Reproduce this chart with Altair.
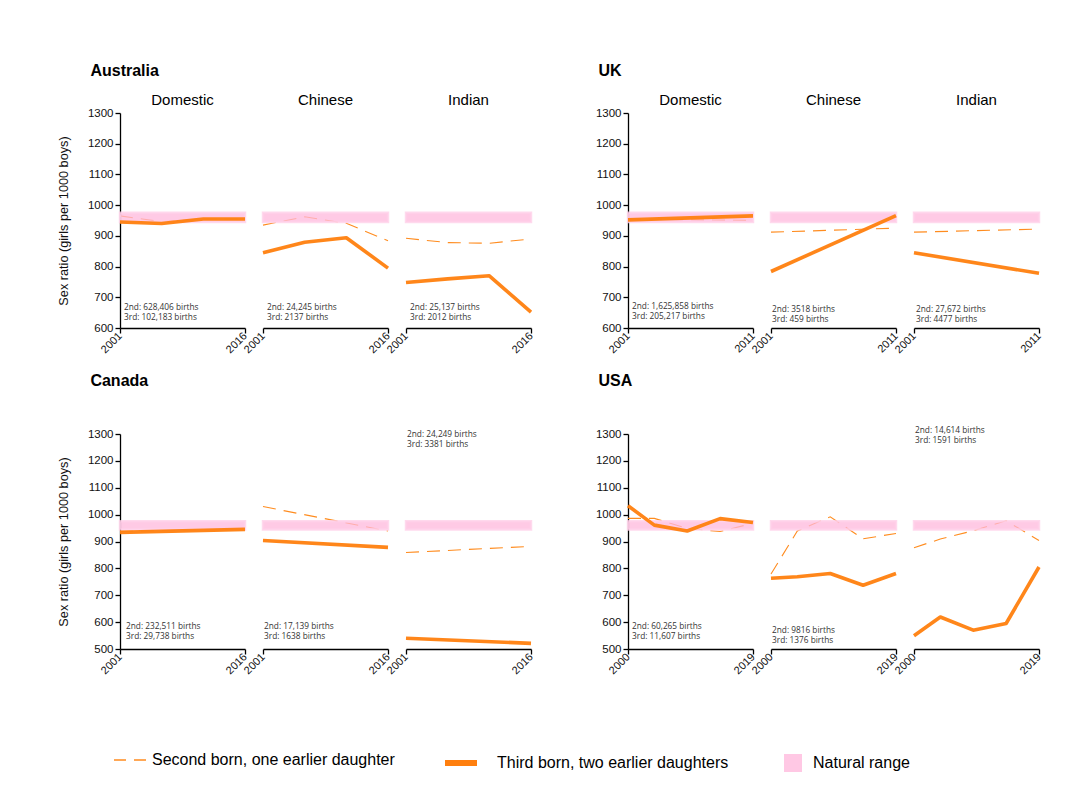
import altair as alt
import pandas as pd

# ---------------- data ----------------
groups = ["Domestic", "Chinese", "Indian"]

aus_years = [2001, 2006, 2011, 2016]
aus_second = {"Domestic": [965, 946, 955, 955], "Chinese": [935, 962, 941, 884], "Indian": [892, 878, 876, 890]}
aus_third = {"Domestic": [945, 940, 955, 955], "Chinese": [845, 879, 894, 795], "Indian": [748, 760, 770, 652]}
aus_births = {"Domestic": ["628,406", "102,183"], "Chinese": ["24,245", "2137"], "Indian": ["25,137", "2012"]}

uk_years = [2001, 2011]
uk_second = {"Domestic": [955, 950], "Chinese": [912, 925], "Indian": [912, 922]}
uk_third = {"Domestic": [952, 965], "Chinese": [784, 966], "Indian": [845, 778]}
uk_births = {"Domestic": ["1,625,858", "205,217"], "Chinese": ["3518", "459"], "Indian": ["27,672", "4477"]}

can_years = [2001, 2016]
can_second = {"Domestic": [938, 947], "Chinese": [1030, 939], "Indian": [859, 882]}
can_third = {"Domestic": [934, 945], "Chinese": [904, 878], "Indian": [540, 521]}
can_births = {"Domestic": ["232,511", "29,738"], "Chinese": ["17,139", "1638"], "Indian": ["24,249", "3381"]}

usa_years = [2000, 2004, 2009, 2014, 2019]
usa_second = {"Domestic": [986, 986, 949, 937, 968], "Chinese": [779, 939, 992, 910, 930], "Indian": [877, 909, 940, 977, 904]}
usa_third = {"Domestic": [1033, 961, 939, 985, 971], "Chinese": [763, 769, 781, 737, 781], "Indian": [549, 619, 570, 595, 805]}
usa_births = {"Domestic": ["60,265", "11,607"], "Chinese": ["9816", "1376"], "Indian": ["14,614", "1591"]}

natural_range = [945, 975]
legend_labels = ["Second born, one earlier daughter", "Third born, two earlier daughters", "Natural range"]
y_title = "Sex ratio (girls per 1000 boys)"

# ---------------- placement of the birth-count notes (pixels inside panel, top of text) ----------------
note_pos = {
    "Australia": {"Domestic": (4, 190), "Chinese": (4, 190), "Indian": (4, 190)},
    "UK": {"Domestic": (4, 189), "Chinese": (1, 192), "Indian": (2, 192)},
    "Canada": {"Domestic": (6, 188), "Chinese": (1, 188), "Indian": (1, -4)},
    "USA": {"Domestic": (4, 188), "Chinese": (1, 192), "Indian": (1, -8)},
}

ORANGE = "#ff7f0e"
DASH_ORANGE = "#ff8c1f"
PINK = "#ffb8dc"
FONT = "Liberation Sans"
NOTE_FONT = "Open Sans"

PW, PH = 125, 215


def panel(country, group, years, second, third, births, ymin, first, header):
    y0, y1 = years[0], years[-1]
    df = pd.DataFrame({
        "year": years * 2,
        "ratio": second + third,
        "series": ["second"] * len(years) + ["third"] * len(years),
    })
    xaxis = alt.Axis(values=[y0, y1], format="d", labelAngle=-45, labelAlign="right",
                     labelBaseline="middle", labelFontSize=11, labelPadding=1,
                     tickSize=5, grid=False, title=None)
    xscale = alt.Scale(domain=[y0, y1], nice=False, zero=False)
    yscale = alt.Scale(domain=[ymin, 1300], nice=False, zero=False)
    if first:
        yaxis = alt.Axis(values=list(range(ymin, 1301, 100)), format="d", grid=False, tickSize=5,
                         labelFontSize=11.5, labelPadding=2,
                         title=y_title if country in ("Australia", "Canada") else None,
                         titleFontSize=12.7, titleFontWeight="normal", titlePadding=17)
    else:
        yaxis = None
    xenc = alt.X("year:Q", scale=xscale, axis=xaxis)
    yenc = alt.Y("ratio:Q", scale=yscale, axis=yaxis)

    base = alt.Chart(df)
    dashed = base.transform_filter(alt.datum.series == "second").mark_line(
        color=DASH_ORANGE, strokeWidth=1.1, strokeDash=[13, 8]
    ).encode(x=xenc, y=yenc)
    band_df = pd.DataFrame({"year": [y0], "year2": [y1],
                            "ratio": [natural_range[0]], "ratio2": [natural_range[1]]})
    band = alt.Chart(band_df).mark_rect(
        fill=PINK, fillOpacity=0.75, stroke="#ffd0e8", strokeWidth=2.5, strokeOpacity=0.8
    ).encode(x=xenc, x2="year2:Q", y=yenc, y2="ratio2:Q")
    solid = base.transform_filter(alt.datum.series == "third").mark_line(
        color=ORANGE, strokeWidth=3.6, opacity=0.95, strokeJoin="round"
    ).encode(x=xenc, y=yenc)
    nx, ny = note_pos[country][group]
    note_df = pd.DataFrame({"t": [f"2nd: {births[0]} births\n3rd: {births[1]} births"]})
    note = alt.Chart(note_df).mark_text(
        align="left", baseline="top", lineBreak="\n", lineHeight=10, fontSize=8.3,
        font=NOTE_FONT, color="#333333"
    ).encode(x=alt.value(nx), y=alt.value(ny), text="t:N")
    layers = [dashed, band, solid, note]
    if header:
        head = alt.Chart(pd.DataFrame({"g": [group]})).mark_text(
            align="center", baseline="middle", fontSize=15, font=FONT, color="#000000"
        ).encode(x=alt.value(PW / 2), y=alt.value(-13), text="g:N")
        layers.append(head)
    return alt.layer(*layers).properties(width=PW, height=PH)


def block(country, years, second, third, births, ymin, header, dx, title_offset):
    panels = [panel(country, g, years, second[g], third[g], births[g], ymin, i == 0, header)
              for i, g in enumerate(groups)]
    return alt.hconcat(*panels, spacing=18, bounds="flush").properties(
        title=alt.TitleParams(country, anchor="start", fontSize=16, fontWeight="bold", font=FONT,
                              dx=dx, offset=title_offset, color="#000000")
    )


aus = block("Australia", aus_years, aus_second, aus_third, aus_births, 600, True, 33, 14)
uk = block("UK", uk_years, uk_second, uk_third, uk_births, 600, True, 3, 14)
can = block("Canada", can_years, can_second, can_third, can_births, 500, False, 33, 39)
usa = block("USA", usa_years, usa_second, usa_third, usa_births, 500, False, 3, 37)

row1 = alt.hconcat(aus, uk, spacing=60)
row2 = alt.hconcat(can, usa, spacing=60)

# ---------------- legend ----------------
one = pd.DataFrame({"k": [0]})
leg_dash = alt.Chart(one).mark_rule(color=DASH_ORANGE, strokeWidth=1.5, strokeDash=[12, 8]).encode(
    x=alt.value(-6), x2=alt.value(26), y=alt.value(13))
leg_t1 = alt.Chart(one).mark_text(align="left", baseline="middle", fontSize=16, font=FONT, color="#000").encode(
    x=alt.value(32), y=alt.value(13), text=alt.value(legend_labels[0]))
leg_solid = alt.Chart(one).mark_rule(color=ORANGE, strokeWidth=6).encode(
    x=alt.value(325), x2=alt.value(357), y=alt.value(16))
leg_t2 = alt.Chart(one).mark_text(align="left", baseline="middle", fontSize=16, font=FONT, color="#000").encode(
    x=alt.value(377), y=alt.value(16), text=alt.value(legend_labels[1]))
leg_box = alt.Chart(one).mark_rect(color="#ffc8e4").encode(
    x=alt.value(664), x2=alt.value(682), y=alt.value(7), y2=alt.value(25))
leg_t3 = alt.Chart(one).mark_text(align="left", baseline="middle", fontSize=16, font=FONT, color="#000").encode(
    x=alt.value(693), y=alt.value(16), text=alt.value(legend_labels[2]))
legend = alt.layer(leg_dash, leg_t1, leg_solid, leg_t2, leg_box, leg_t3).properties(width=880, height=30)

grid = alt.vconcat(row1, row2, spacing=18)
chart = alt.vconcat(grid, legend, spacing=71).properties(
    padding={"left": 49, "top": 55, "right": 5, "bottom": 5},
    background="white",
).configure_view(stroke="transparent", strokeWidth=0).configure_axis(
    domainColor="#000000", tickColor="#000000", labelColor="#111111", titleColor="#111111",
    labelFont=FONT, titleFont=FONT, domainWidth=1.3, tickWidth=1.3
)

chart.save("out.html", embed_options={"renderer": "svg", "actions": False})
